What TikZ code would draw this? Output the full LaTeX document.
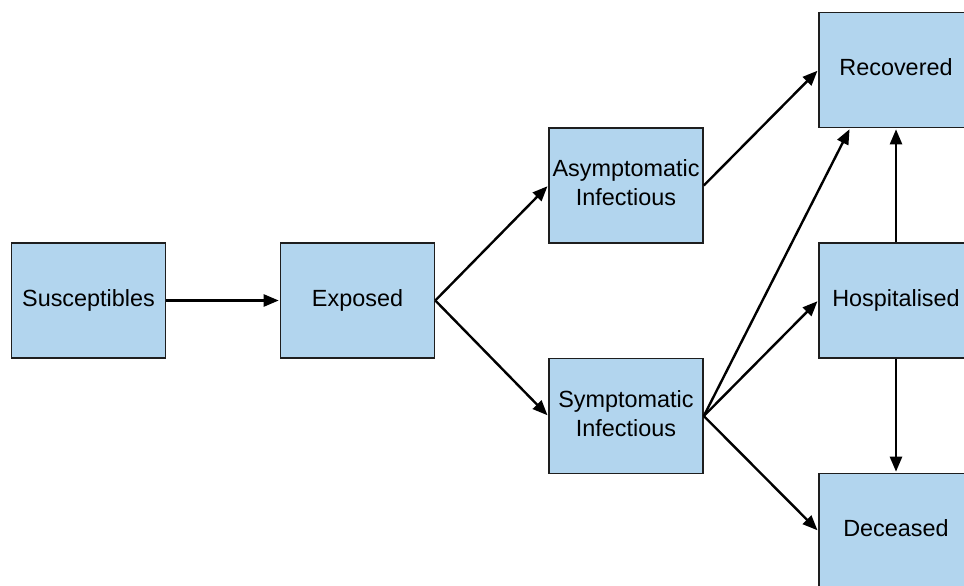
\documentclass[tikz,border=0pt]{standalone}
\usepackage{fontspec}
\setmainfont{Liberation Sans}
\usetikzlibrary{arrows.meta}
\definecolor{boxfill}{RGB}{178,213,238}
\definecolor{boxline}{RGB}{30,30,30}
\newcommand\liftedtext[1]{\raisebox{2.5pt}{\begin{tabular}{@{}c@{}}#1\end{tabular}}}
\begin{document}
\begin{tikzpicture}[x=1pt,y=-1pt,
  compbox/.style={draw=boxline, fill=boxfill, line width=1.6pt, minimum width=154pt, minimum height=115pt,
    inner sep=0pt, align=center, font=\fontsize{23.4}{29}\selectfont},
  flow/.style={draw=black, line width=2.4pt, -{Triangle[length=15pt,width=12pt]}, shorten >=1pt}]
\useasboundingbox (0,0) rectangle (964,586);
\node[compbox] (sus) at (88.5,300.5) {\liftedtext{Susceptibles}};
\node[compbox] (exp) at (357.5,300.5) {\liftedtext{Exposed}};
\node[compbox] (asy) at (626,185.5) {\liftedtext{Asymptomatic\\Infectious}};
\node[compbox] (sym) at (626,416) {\liftedtext{Symptomatic\\Infectious}};
\node[compbox] (rec) at (896,70) {\liftedtext{Recovered}};
\node[compbox] (hos) at (896,300.5) {\liftedtext{Hospitalised}};
\node[compbox] (dec) at (896,531) {\liftedtext{Deceased}};
\draw[flow] (sus.east) -- (exp.west);
\draw[flow] (exp.east) -- (asy.west);
\draw[flow] (exp.east) -- (sym.west);
\draw[flow] (asy.east) -- (rec.west);
\draw[flow] (sym.east) -- ([xshift=-46pt]rec.south);
\draw[flow] (sym.east) -- (hos.west);
\draw[flow] (sym.east) -- (dec.west);
\draw[flow] (hos.north) -- (rec.south);
\draw[flow] (hos.south) -- (dec.north);
\end{tikzpicture}
\end{document}
